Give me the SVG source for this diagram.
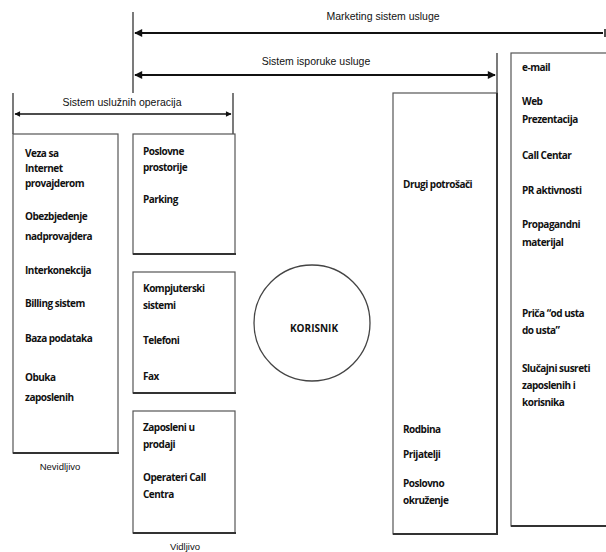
<svg xmlns="http://www.w3.org/2000/svg" width="606" height="552" viewBox="0 0 606 552">
  <style>
    .box { fill: #fff; stroke: #555; stroke-width: 1.2; }
    .shade { stroke: #333; stroke-width: 2; fill: none; }
    .tick { stroke: #222; stroke-width: 1.2; fill: none; }
    .span { stroke: #111; stroke-width: 2; fill: none; }
    .span-thin { stroke: #111; stroke-width: 1.4; fill: none; }
    .lbl { font-family: "Liberation Sans", Arial, sans-serif; font-size: 10.5px; fill: #111; }
    .item { font-family: "Open Sans", "Liberation Sans", sans-serif; font-size: 10px; font-weight: bold; fill: #111; letter-spacing: -0.5px; }
  </style>
  <defs>
    <marker id="ah" viewBox="0 0 10 10" refX="9" refY="5" markerWidth="5" markerHeight="4" markerUnits="strokeWidth" orient="auto-start-reverse">
      <path d="M0,0 L10,5 L0,10 z" fill="#111"/>
    </marker>
  </defs>
  <rect width="606" height="552" fill="#fff"/>

  <!-- span markers -->
  <g id="connectors">
    <line class="tick" x1="133" y1="12" x2="133" y2="93"/>
    <line class="tick" x1="497" y1="53" x2="497" y2="93"/>
    <line class="tick" x1="13" y1="93" x2="13" y2="134"/>
    <line class="tick" x1="233" y1="93" x2="233" y2="134"/>
    <line class="span" x1="135" y1="33" x2="603" y2="33" marker-start="url(#ah)"/>
    <line class="tick" x1="605" y1="29" x2="605" y2="37" style="stroke-width:1.6"/>
    <line class="span" x1="135" y1="75" x2="495" y2="75" marker-start="url(#ah)" marker-end="url(#ah)"/>
    <line class="span-thin" x1="15" y1="114" x2="231" y2="114" marker-start="url(#ah)" marker-end="url(#ah)"/>
    <text class="lbl" x="383" y="20" text-anchor="middle">Marketing sistem usluge</text>
    <text class="lbl" x="316" y="65" text-anchor="middle">Sistem isporuke usluge</text>
    <text class="lbl" x="122" y="106" text-anchor="middle">Sistem uslužnih operacija</text>
  </g>

  <!-- invisible part -->
  <g id="nevidljivo">
    <rect class="box" x="13" y="134" width="105" height="319"/>
    <line class="shade" x1="13" y1="453" x2="119" y2="453"/>
    <text class="item" x="25" y="157">Veza sa</text>
    <text class="item" x="25" y="172">Internet</text>
    <text class="item" x="25" y="187">provajderom</text>
    <text class="item" x="25" y="220">Obezbjedenje</text>
    <text class="item" x="25" y="240">nadprovajdera</text>
    <text class="item" x="25" y="274">Interkonekcija</text>
    <text class="item" x="25" y="307">Billing sistem</text>
    <text class="item" x="25" y="342">Baza podataka</text>
    <text class="item" x="25" y="381">Obuka</text>
    <text class="item" x="25" y="401">zaposlenih</text>
    <text class="lbl" x="60" y="470" text-anchor="middle" style="font-size:9.5px">Nevidljivo</text>
  </g>

  <!-- visible part -->
  <g id="prostor">
    <rect class="box" x="133" y="134" width="102" height="120"/>
    <line class="shade" x1="133" y1="254" x2="236" y2="254"/>
    <text class="item" x="143" y="155">Poslovne</text>
    <text class="item" x="143" y="171">prostorije</text>
    <text class="item" x="143" y="203">Parking</text>
  </g>
  <g id="oprema">
    <rect class="box" x="133" y="272" width="102" height="121"/>
    <line class="shade" x1="133" y1="393" x2="236" y2="393"/>
    <text class="item" x="143" y="292">Kompjuterski</text>
    <text class="item" x="143" y="309">sistemi</text>
    <text class="item" x="143" y="344">Telefoni</text>
    <text class="item" x="143" y="380">Fax</text>
  </g>
  <g id="osoblje">
    <rect class="box" x="133" y="411" width="102" height="122"/>
    <line class="shade" x1="133" y1="533" x2="236" y2="533"/>
    <text class="item" x="143" y="431">Zaposleni u</text>
    <text class="item" x="143" y="448">prodaji</text>
    <text class="item" x="143" y="481">Operateri Call</text>
    <text class="item" x="143" y="498">Centra</text>
    <text class="lbl" x="185" y="550" text-anchor="middle" style="font-size:9.5px">Vidljivo</text>
  </g>

  <!-- customer -->
  <g id="korisnik">
    <circle cx="312" cy="323" r="58" fill="#fff" stroke="#444" stroke-width="1.3"/>
    <text class="item" x="314" y="332" text-anchor="middle" style="letter-spacing:0">KORISNIK</text>
  </g>

  <!-- other customers -->
  <g id="drugi">
    <rect class="box" x="393" y="93" width="104" height="441"/>
    <line class="shade" x1="497" y1="93" x2="497" y2="534"/>
    <line class="shade" x1="393" y1="534" x2="498" y2="534"/>
    <text class="item" x="403" y="188">Drugi potrošači</text>
    <text class="item" x="403" y="433">Rodbina</text>
    <text class="item" x="403" y="458">Prijatelji</text>
    <text class="item" x="403" y="487">Poslovno</text>
    <text class="item" x="403" y="504">okruženje</text>
  </g>

  <!-- communication channels -->
  <g id="komunikacija">
    <rect class="box" x="511" y="53" width="100" height="473"/>
    <line class="shade" x1="511" y1="526" x2="606" y2="526"/>
    <text class="item" x="522" y="71">e-mail</text>
    <text class="item" x="522" y="105">Web</text>
    <text class="item" x="522" y="123">Prezentacija</text>
    <text class="item" x="522" y="159">Call Centar</text>
    <text class="item" x="522" y="194">PR aktivnosti</text>
    <text class="item" x="522" y="228">Propagandni</text>
    <text class="item" x="522" y="246">materijal</text>
    <text class="item" x="522" y="317">Priča “od usta</text>
    <text class="item" x="522" y="334">do usta”</text>
    <text class="item" x="522" y="372">Slučajni susreti</text>
    <text class="item" x="522" y="389">zaposlenih i</text>
    <text class="item" x="522" y="406">korisnika</text>
  </g>
</svg>
